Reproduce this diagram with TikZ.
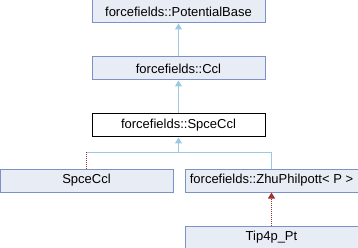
\documentclass[tikz,border=0pt]{standalone}
\usepackage{fontspec}
\setmainfont{Liberation Sans}
\usetikzlibrary{arrows.meta, positioning}
\definecolor{BoxFill}{HTML}{E8ECF5}
\definecolor{BoxEdge}{HTML}{7C91C7}
\definecolor{LinkBlue}{HTML}{9BC9E4}
\definecolor{LinkRed}{HTML}{A3332E}
\tikzset{
  % Class box
  classbox/.style={
    rectangle, draw=BoxEdge, line width=1pt,
    fill=BoxFill, minimum width=173pt,
    minimum height=23pt, inner sep=0pt,
    font=\fontsize{13}{15}\selectfont
  },
  % Current class
  selfbox/.style={
    classbox, draw=black, fill=white
  },
  % Public inheritance
  link/.style={
    line width=1pt, draw=LinkBlue
  },
  inherit/.style={
    link, -{Triangle[width=7pt,length=6pt]}
  },
  % Template instance
  instance/.style={
    line width=1pt, draw=LinkRed, dash pattern=on 1pt off 1pt
  },
  instarrow/.style={
    instance, -{Triangle[width=7pt,length=6pt]}
  }
}
\begin{document}
\begin{tikzpicture}[x=1pt, y=-1pt]
\useasboundingbox (0,0) rectangle (358,248);

\node[classbox] (pot_base) at (178.5,11.5) {forcefields::PotentialBase};
\node[classbox, below=33pt of pot_base] (ccl) {forcefields::Ccl};
\node[selfbox, below=33pt of ccl] (spce_ccl) {forcefields::SpceCcl};

\node[classbox] (spce_leaf) at (86.5,180.5) {SpceCcl};
\node[classbox] (zhu) at (271.5,180.5) {forcefields::ZhuPhilpott< P >};
\node[classbox, below=33pt of zhu] (tip4p) {Tip4p\_Pt};

\coordinate (bus) at (178.5,152);

\draw[inherit] (ccl) -- (pot_base);
\draw[inherit] (spce_ccl) -- (ccl);
\draw[link] (zhu.north) -- (zhu.north |- bus) -- (spce_leaf.north |- bus);
\draw[inherit] (bus) -- (spce_ccl.south);
\draw[instance] (spce_leaf.north) -- (spce_leaf.north |- bus);
\draw[instarrow] (tip4p) -- (zhu);

\end{tikzpicture}
\end{document}
